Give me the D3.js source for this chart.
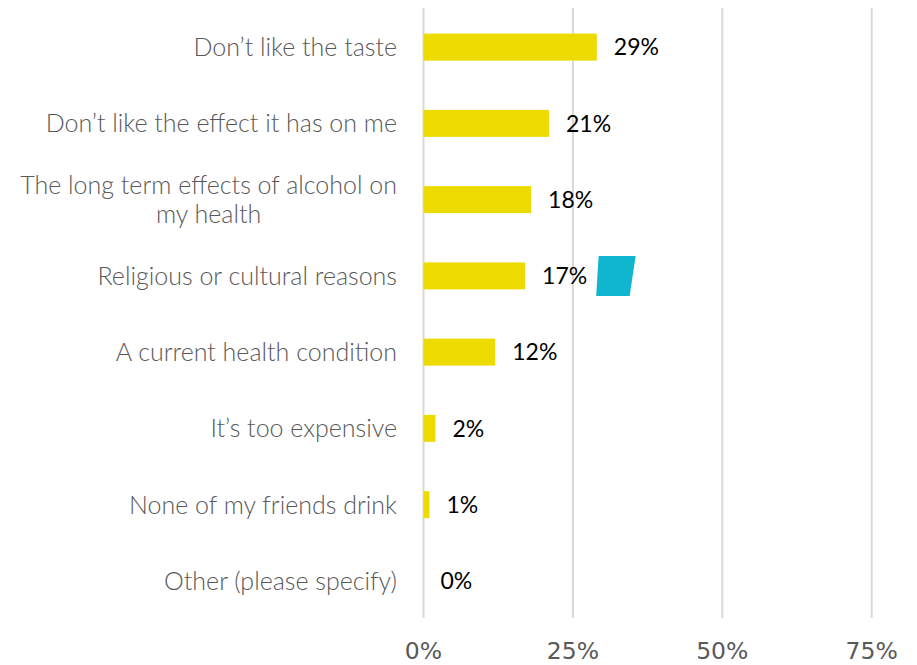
<!DOCTYPE html>
<html>
<head>
<meta charset="utf-8">
<script src="https://cdn.jsdelivr.net/npm/d3@7"></script>
<style>
  html, body { margin: 0; padding: 0; background: #ffffff; }
  svg { display: block; }
</style>
</head>
<body>
<svg id="chart" width="917" height="665"></svg>
<script>
// Reasons for not drinking alcohol (share of respondents, %)
const categories = [
  "Don’t like the taste",
  "Don’t like the effect it has on me",
  "The long term effects of alcohol on my health",
  "Religious or cultural reasons",
  "A current health condition",
  "It’s too expensive",
  "None of my friends drink",
  "Other (please specify)"
];
const values = [29, 21, 18, 17, 12, 2, 1, 0];
const tickValues = [0, 25, 50, 75];
const tickLabels = ["0%", "25%", "50%", "75%"];

// Category labels that wrap onto two lines
const labelLines = {
  "The long term effects of alcohol on my health": ["The long term effects of alcohol on", "my health"]
};

const svg = d3.select("#chart");
const plot = { left: 423.5, right: 871.7, top: 9, bottom: 619 };

const x = d3.scaleLinear().domain([0, 75]).range([plot.left, plot.right]);
const y = d3.scaleBand()
  .domain(categories)
  .range([plot.top, plot.bottom])
  .paddingInner(0.646)
  .paddingOuter(0.323);

// Vertical gridlines
svg.append("g")
  .selectAll("line")
  .data(tickValues)
  .join("line")
  .attr("x1", d => x(d)).attr("x2", d => x(d))
  .attr("y1", plot.top - 1).attr("y2", plot.bottom - 1)
  .attr("stroke", "#d9d9d9")
  .attr("stroke-width", 2);

// Bottom axis tick labels
svg.append("g")
  .selectAll("text")
  .data(tickValues)
  .join("text")
  .attr("x", d => x(d))
  .attr("y", 659)
  .attr("text-anchor", "middle")
  .attr("font-family", "DejaVu Sans")
  .attr("font-size", 23.5)
  .attr("fill", "#595959")
  .text((d, i) => tickLabels[i]);

// Bars
svg.append("g")
  .selectAll("rect")
  .data(values)
  .join("rect")
  .attr("x", x(0))
  .attr("y", (d, i) => y(categories[i]))
  .attr("width", d => x(d) - x(0))
  .attr("height", y.bandwidth())
  .attr("fill", "#eddb00");

// Value labels
svg.append("g")
  .selectAll("text")
  .data(values)
  .join("text")
  .attr("x", d => x(d) + 17)
  .attr("y", (d, i) => y(categories[i]) + y.bandwidth() / 2)
  .attr("dy", "0.36em")
  .attr("font-family", "Lato, 'Open Sans', sans-serif")
  .attr("font-size", 23)
  .attr("fill", "#000000")
  .text(d => d + "%");

// Category labels, right-aligned; wrapped labels are centred as a block
const catFont = { family: "Lato, 'Open Sans', sans-serif", size: 25, weight: 300 };
const catG = svg.append("g");
const labelRight = 397;
categories.forEach(c => {
  const cy = y(c) + y.bandwidth() / 2;
  const lines = labelLines[c];
  const t = catG.append("text")
    .attr("font-family", catFont.family)
    .attr("font-size", catFont.size)
    .attr("font-weight", catFont.weight)
    .attr("fill", "#595959");
  if (!lines) {
    t.attr("x", labelRight)
      .attr("y", cy)
      .attr("dy", "0.36em")
      .attr("text-anchor", "end")
      .text(c);
  } else {
    const lh = 29;
    t.attr("text-anchor", "middle");
    const probe = t.append("tspan").text(lines[0]);
    const w = probe.node().getComputedTextLength();
    probe.remove();
    const cx = labelRight - w / 2;
    lines.forEach((ln, k) => {
      t.append("tspan")
        .attr("x", cx)
        .attr("y", cy + (k - (lines.length - 1) / 2) * lh)
        .attr("dy", "0.36em")
        .text(ln);
    });
  }
});

// Cyan marker shape beside the religious/cultural bar
const rc = categories[3];
const mTop = y(rc) + y.bandwidth() / 2 - 20;
const mBot = y(rc) + y.bandwidth() / 2 + 20;
const marker = d3.path();
marker.moveTo(x(29.3), mTop);
marker.lineTo(x(35.5), mTop);
marker.lineTo(x(34.5), mBot);
marker.lineTo(x(28.9), mBot);
marker.closePath();
svg.append("path")
  .attr("d", marker.toString())
  .attr("fill", "#10b6cf");
</script>
</body>
</html>
